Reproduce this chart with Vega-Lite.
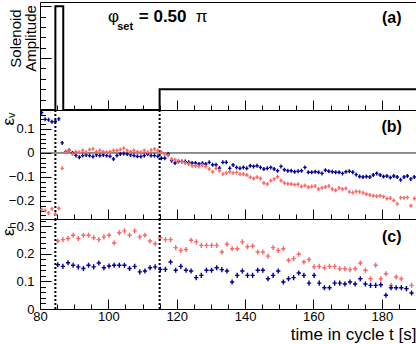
{
  "$schema": "https://vega.github.io/schema/vega-lite/v6.json",
  "padding": {"left": -2, "top": 1, "right": 0, "bottom": 0},
  "spacing": 0,
  "bounds": "flush",
  "config": {
    "concat": {"spacing": 0},
    "view": {"stroke": "black", "strokeWidth": 1},
    "font": "Liberation Sans",
    "axis": {"domain": false, "grid": false, "tickColor": "black", "tickWidth": 1, "labelColor": "black", "titleColor": "black", "labelFont": "Liberation Sans", "titleFont": "Liberation Sans", "labelFontSize": 13, "titleFontWeight": "normal", "labelOverlap": false}
  },
  "datasets": {
    "one": [{"k": 1}],
    "sol": [
      {"i": 0, "t": 80, "a": 0}, {"i": 1, "t": 84.5, "a": 0}, {"i": 2, "t": 84.5, "a": 1.0}, {"i": 3, "t": 86.8, "a": 1.0},
      {"i": 4, "t": 86.8, "a": 0}, {"i": 5, "t": 115, "a": 0}, {"i": 6, "t": 115, "a": 0.2}, {"i": 7, "t": 190, "a": 0.2}
    ],
    "vlines": [{"t": 84.5}, {"t": 115}],
    "ev": [
      {"t":80.5,"b":0.168,"r":-0.235},{"t":81.5,"b":0.14,"r":-0.24},{"t":82.5,"b":0.138,"r":-0.25},{"t":83.5,"b":0.13,"r":-0.233},
      {"t":84.5,"b":0.132,"r":-0.254},{"t":85.5,"b":0.142,"r":-0.23},{"t":86.5,"b":0.042,"r":-0.064},{"t":87.5,"b":0.005,"r":0.003},
      {"t":88.5,"b":0.011,"r":0.01},{"t":89.5,"b":0.0,"r":-0.004},{"t":90.5,"b":-0.01,"r":0.005},{"t":91.5,"b":-0.018,"r":0.003},
      {"t":92.5,"b":-0.011,"r":0.01},{"t":93.5,"b":-0.008,"r":0.003},{"t":94.5,"b":-0.011,"r":0.014},{"t":95.5,"b":-0.015,"r":0.017},
      {"t":96.5,"b":-0.008,"r":0.005},{"t":97.5,"b":-0.011,"r":0.01},{"t":98.5,"b":-0.008,"r":0.005},{"t":99.5,"b":-0.011,"r":0.003},
      {"t":100.5,"b":-0.014,"r":0.005},{"t":101.5,"b":-0.025,"r":0.01},{"t":102.5,"b":-0.011,"r":0.01},{"t":103.5,"b":-0.004,"r":0.014},
      {"t":104.5,"b":-0.002,"r":0.02},{"t":105.5,"b":-0.004,"r":0.01},{"t":106.5,"b":-0.008,"r":0.005},{"t":107.5,"b":-0.011,"r":0.01},
      {"t":108.5,"b":-0.014,"r":0.005},{"t":109.5,"b":-0.015,"r":0.003},{"t":110.5,"b":-0.011,"r":0.01},{"t":111.5,"b":-0.004,"r":0.003},
      {"t":112.5,"b":-0.011,"r":0.012},{"t":113.5,"b":-0.011,"r":0.017},{"t":114.5,"b":-0.014,"r":0.01},{"t":115.5,"b":-0.022,"r":0.003},
      {"t":116.5,"b":-0.022,"r":-0.004},{"t":117.5,"b":-0.004,"r":-0.011},{"t":118.5,"b":-0.032,"r":-0.025},{"t":119.5,"b":-0.042,"r":-0.028},
      {"t":120.5,"b":-0.036,"r":-0.032},{"t":121.5,"b":-0.035,"r":-0.036},{"t":122.5,"b":-0.036,"r":-0.042},{"t":123.5,"b":-0.039,"r":-0.046},
      {"t":124.5,"b":-0.042,"r":-0.053},{"t":125.5,"b":-0.042,"r":-0.053},{"t":126.5,"b":-0.046,"r":-0.056},{"t":127.5,"b":-0.043,"r":-0.05},
      {"t":128.5,"b":-0.046,"r":-0.057},{"t":129.5,"b":-0.039,"r":-0.067},{"t":130.5,"b":-0.049,"r":-0.078},{"t":131.5,"b":-0.049,"r":-0.064},
      {"t":132.5,"b":-0.063,"r":-0.074},{"t":133.5,"b":-0.039,"r":-0.088},{"t":134.5,"b":-0.039,"r":-0.083},{"t":135.5,"b":-0.064,"r":-0.078},
      {"t":136.5,"b":-0.05,"r":-0.083},{"t":137.5,"b":-0.06,"r":-0.081},{"t":138.5,"b":-0.064,"r":-0.088},{"t":139.5,"b":-0.06,"r":-0.088},
      {"t":140.5,"b":-0.064,"r":-0.092},{"t":141.5,"b":-0.053,"r":-0.101},{"t":142.5,"b":-0.056,"r":-0.106},{"t":143.5,"b":-0.053,"r":-0.101},
      {"t":144.5,"b":-0.06,"r":-0.106},{"t":145.5,"b":-0.067,"r":-0.125},{"t":146.5,"b":-0.064,"r":-0.129},{"t":147.5,"b":-0.06,"r":-0.115},
      {"t":148.5,"b":-0.067,"r":-0.108},{"t":149.5,"b":-0.074,"r":-0.099},{"t":150.5,"b":-0.056,"r":-0.115},{"t":151.5,"b":-0.07,"r":-0.125},
      {"t":152.5,"b":-0.074,"r":-0.128},{"t":153.5,"b":-0.074,"r":-0.129},{"t":154.5,"b":-0.078,"r":-0.132},{"t":155.5,"b":-0.076,"r":-0.13},
      {"t":156.5,"b":-0.074,"r":-0.14},{"t":157.5,"b":-0.06,"r":-0.135},{"t":158.5,"b":-0.08,"r":-0.142},{"t":159.5,"b":-0.08,"r":-0.14},
      {"t":160.5,"b":-0.078,"r":-0.138},{"t":161.5,"b":-0.08,"r":-0.15},{"t":162.5,"b":-0.085,"r":-0.145},{"t":163.5,"b":-0.072,"r":-0.142},
      {"t":164.5,"b":-0.076,"r":-0.138},{"t":165.5,"b":-0.078,"r":-0.15},{"t":166.5,"b":-0.08,"r":-0.155},{"t":167.5,"b":-0.08,"r":-0.146},
      {"t":168.5,"b":-0.085,"r":-0.15},{"t":169.5,"b":-0.078,"r":-0.148},{"t":170.5,"b":-0.076,"r":-0.162},{"t":171.5,"b":-0.08,"r":-0.165},
      {"t":172.5,"b":-0.09,"r":-0.16},{"t":173.5,"b":-0.098,"r":-0.162},{"t":174.5,"b":-0.1,"r":-0.166},{"t":175.5,"b":-0.098,"r":-0.172},
      {"t":176.5,"b":-0.1,"r":-0.175},{"t":177.5,"b":-0.092,"r":-0.178},{"t":178.5,"b":-0.085,"r":-0.18},{"t":179.5,"b":-0.092,"r":-0.178},
      {"t":180.5,"b":-0.098,"r":-0.182},{"t":181.5,"b":-0.096,"r":-0.19},{"t":182.5,"b":-0.102,"r":-0.188},{"t":183.5,"b":-0.096,"r":-0.198},
      {"t":184.5,"b":-0.1,"r":-0.212},{"t":185.5,"b":-0.112,"r":-0.186},{"t":186.5,"b":-0.1,"r":-0.186},{"t":187.5,"b":-0.096,"r":-0.185},
      {"t":188.5,"b":-0.108,"r":-0.22},{"t":189.5,"b":-0.1,"r":-0.19}
    ],
    "eh": [
      {"t":85.2,"r":0.247,"b":0.161},{"t":86.7,"r":0.252,"b":0.155},{"t":88.2,"r":0.256,"b":0.168},{"t":89.7,"r":0.268,"b":0.159},
      {"t":91.2,"r":0.256,"b":0.153},{"t":92.7,"r":0.268,"b":0.147},{"t":94.2,"r":0.268,"b":0.159},{"t":95.7,"r":0.259,"b":0.153},
      {"t":97.2,"r":0.252,"b":0.167},{"t":98.7,"r":0.262,"b":0.15},{"t":100.2,"r":0.268,"b":0.156},{"t":101.7,"r":0.24,"b":0.159},
      {"t":103.2,"r":0.277,"b":0.159},{"t":104.7,"r":0.284,"b":0.159},{"t":106.2,"r":0.268,"b":0.147},{"t":107.7,"r":0.284,"b":0.155},
      {"t":109.2,"r":0.262,"b":0.135},{"t":110.7,"r":0.268,"b":0.138},{"t":112.2,"r":0.247,"b":0.15},{"t":113.7,"r":0.237,"b":0.153},
      {"t":115.2,"r":0.259,"b":0.144},{"t":116.7,"r":0.252,"b":0.144},{"t":118.2,"r":0.252,"b":0.171},{"t":119.7,"r":0.223,"b":0.141},
      {"t":121.2,"r":0.213,"b":0.155},{"t":122.7,"r":0.216,"b":0.141},{"t":124.2,"r":0.25,"b":0.138},{"t":125.7,"r":0.244,"b":0.114},
      {"t":127.2,"r":0.231,"b":0.122},{"t":128.7,"r":0.231,"b":0.141},{"t":130.2,"r":0.231,"b":0.141},{"t":131.7,"r":0.231,"b":0.15},
      {"t":133.2,"r":0.207,"b":0.143},{"t":134.7,"r":0.235,"b":0.138},{"t":136.2,"r":0.219,"b":0.098},{"t":137.7,"r":0.219,"b":0.122},
      {"t":139.2,"r":0.244,"b":0.138},{"t":140.7,"r":0.226,"b":0.122},{"t":142.2,"r":0.229,"b":0.122},{"t":143.7,"r":0.207,"b":0.141},
      {"t":145.2,"r":0.207,"b":0.141},{"t":146.7,"r":0.192,"b":0.11},{"t":148.2,"r":0.223,"b":0.122},{"t":149.7,"r":0.213,"b":0.138},
      {"t":151.2,"r":0.219,"b":0.098},{"t":152.7,"r":0.177,"b":0.11},{"t":154.2,"r":0.183,"b":0.114},{"t":155.7,"r":0.199,"b":0.131},
      {"t":157.2,"r":0.171,"b":0.122},{"t":158.7,"r":0.18,"b":0.094},{"t":160.2,"r":0.153,"b":0.122},{"t":161.7,"r":0.155,"b":0.094},
      {"t":163.2,"r":0.15,"b":0.077},{"t":164.7,"r":0.155,"b":0.077},{"t":166.2,"r":0.155,"b":0.094},{"t":167.7,"r":0.146,"b":0.094},
      {"t":169.2,"r":0.146,"b":0.091},{"t":170.7,"r":0.143,"b":0.098},{"t":172.2,"r":0.146,"b":0.091},{"t":173.7,"r":0.167,"b":0.11},
      {"t":175.2,"r":0.141,"b":0.091},{"t":176.7,"r":0.11,"b":0.086},{"t":178.2,"r":0.159,"b":0.086},{"t":179.7,"r":0.11,"b":0.088},
      {"t":181.2,"r":0.128,"b":0.05},{"t":182.7,"r":0.086,"b":0.077},{"t":184.2,"r":0.116,"b":0.077},{"t":185.7,"r":0.11,"b":0.077},
      {"t":187.2,"r":0.074,"b":0.074},{"t":188.7,"r":0.086,"b":0.058}
    ]
  },
  "vconcat": [
    {
      "width": 376, "height": 108,
      "resolve": {"axis": {"x": "independent", "y": "independent"}},
      "layer": [
        {
          "data": {"name": "sol"},
          "mark": {"type": "line", "color": "black", "strokeWidth": 2},
          "encoding": {
            "x": {"field": "t", "type": "quantitative", "scale": {"domain": [80, 190], "nice": false, "zero": false},
              "axis": {"orient": "bottom", "values": [80,100,120,140,160,180], "labels": false, "title": null, "tickSize": -10}},
            "y": {"field": "a", "type": "quantitative", "scale": {"domain": [0, 1.04], "nice": false, "zero": false},
              "axis": {"orient": "left", "values": [0.5, 1.0], "labels": false, "tickSize": -11,
                "title": ["Solenoid", "Amplitude"], "titleFontSize": 15, "titleLineHeight": 15, "titleAngle": 270,
                "titleX": -20, "titleY": 36, "titleAlign": "center", "titleBaseline": "alphabetic"}},
            "order": {"field": "i", "type": "quantitative"}
          }
        },
        {
          "data": {"name": "sol"},
          "mark": {"type": "line", "color": "black", "strokeWidth": 2, "opacity": 0},
          "encoding": {
            "x": {"field": "t", "type": "quantitative",
              "axis": {"orient": "bottom", "values": [85,90,95,105,110,115,125,130,135,145,150,155,165,170,175,185,190], "labels": false, "title": null, "tickSize": -5}},
            "y": {"field": "a", "type": "quantitative",
              "axis": {"orient": "left", "values": [0.1,0.2,0.3,0.4,0.6,0.7,0.8,0.9], "labels": false, "tickSize": -5.5, "title": null}},
            "order": {"field": "i", "type": "quantitative"}
          }
        },
        {
          "data": {"name": "one"},
          "mark": {"type": "text", "text": "φ", "align": "left", "baseline": "middle", "fontSize": 17},
          "encoding": {"x": {"datum": 99.9, "type": "quantitative", "axis": null}, "y": {"datum": 0.894, "type": "quantitative", "axis": null}}
        },
        {
          "data": {"name": "one"},
          "mark": {"type": "text", "text": "set", "align": "left", "baseline": "middle", "fontSize": 11, "fontWeight": "bold"},
          "encoding": {"x": {"datum": 102.6, "type": "quantitative", "axis": null}, "y": {"datum": 0.80, "type": "quantitative", "axis": null}}
        },
        {
          "data": {"name": "one"},
          "mark": {"type": "text", "text": "= 0.50", "align": "left", "baseline": "middle", "fontSize": 17, "fontWeight": "bold"},
          "encoding": {"x": {"datum": 108.9, "type": "quantitative", "axis": null}, "y": {"datum": 0.894, "type": "quantitative", "axis": null}}
        },
        {
          "data": {"name": "one"},
          "mark": {"type": "text", "text": "π", "align": "left", "baseline": "middle", "fontSize": 17},
          "encoding": {"x": {"datum": 125.6, "type": "quantitative", "axis": null}, "y": {"datum": 0.894, "type": "quantitative", "axis": null}}
        },
        {
          "data": {"name": "one"},
          "mark": {"type": "text", "text": "(a)", "align": "center", "baseline": "middle", "fontSize": 16, "fontWeight": "bold"},
          "encoding": {"x": {"datum": 182.9, "type": "quantitative", "axis": null}, "y": {"datum": 0.889, "type": "quantitative", "axis": null}}
        }
      ]
    },
    {
      "width": 376, "height": 109,
      "resolve": {"axis": {"x": "independent", "y": "independent"}},
      "layer": [
        {
          "data": {"name": "ev"},
          "mark": {"type": "point", "shape": "M-0.85,0H0.85M0,-1V1", "filled": false, "size": 16, "strokeWidth": 1.4, "color": "#000099", "opacity": 1},
          "encoding": {
            "x": {"field": "t", "type": "quantitative", "scale": {"domain": [80, 190], "nice": false, "zero": false},
              "axis": {"orient": "bottom", "values": [80,100,120,140,160,180], "labels": false, "title": null, "tickSize": -10}},
            "y": {"field": "b", "type": "quantitative", "scale": {"domain": [-0.275, 0.179], "nice": false, "zero": false},
              "axis": {"orient": "left", "values": [-0.2,-0.1,0,0.1], "format": ".1~f", "tickSize": -11, "labelPadding": 17,
                "title": "εᵥ", "titleFontSize": 17, "titleAngle": 270, "titleX": -27, "titleY": 2, "titleAlign": "right", "titleBaseline": "alphabetic"}}
          }
        },
        {
          "data": {"name": "one"},
          "mark": {"type": "rule", "color": "#222", "strokeWidth": 1},
          "encoding": {"y": {"datum": 0, "type": "quantitative", "axis": null}}
        },
        {
          "data": {"name": "vlines"},
          "mark": {"type": "rule", "color": "black", "strokeWidth": 2, "strokeDash": [2, 2]},
          "encoding": {"x": {"field": "t", "type": "quantitative", "axis": null}}
        },
        {
          "data": {"name": "ev"},
          "mark": {"type": "point", "shape": "M-0.85,0H0.85M0,-1V1", "filled": false, "size": 16, "strokeWidth": 1.4, "color": "#ff6666", "opacity": 1},
          "encoding": {
            "x": {"field": "t", "type": "quantitative",
              "axis": {"orient": "bottom", "values": [85,90,95,105,110,115,125,130,135,145,150,155,165,170,175,185,190], "labels": false, "title": null, "tickSize": -5}},
            "y": {"field": "r", "type": "quantitative",
              "axis": {"orient": "left", "values": [-0.26,-0.24,-0.22,-0.18,-0.16,-0.14,-0.12,-0.08,-0.06,-0.04,-0.02,0.02,0.04,0.06,0.08,0.12,0.14,0.16], "labels": false, "tickSize": -5.5, "title": null}}
          }
        },
        {
          "data": {"name": "one"},
          "mark": {"type": "text", "text": "(b)", "align": "center", "baseline": "middle", "fontSize": 16, "fontWeight": "bold"},
          "encoding": {"x": {"datum": 182.9, "type": "quantitative", "axis": null}, "y": {"datum": 0.11, "type": "quantitative", "axis": null}}
        }
      ]
    },
    {
      "width": 376, "height": 90,
      "resolve": {"axis": {"x": "independent", "y": "independent"}},
      "layer": [
        {
          "data": {"name": "eh"},
          "mark": {"type": "point", "shape": "M-0.84,0H0.84M0,-1V1", "filled": false, "size": 26, "strokeWidth": 1.4, "color": "#ff6666", "opacity": 1},
          "encoding": {
            "x": {"field": "t", "type": "quantitative", "scale": {"domain": [80, 190], "nice": false, "zero": false},
              "axis": {"orient": "bottom", "values": [80,100,120,140,160,180], "format": "d", "labelFlush": false, "labelPadding": 11, "tickSize": -10,
                "title": "time in cycle t [s]", "titleFontSize": 17, "titleAnchor": "end", "titleAlign": "right", "titleX": 376, "titleY": 30.5, "titleBaseline": "alphabetic"}},
            "y": {"field": "r", "type": "quantitative", "scale": {"domain": [0, 0.327], "nice": false, "zero": false},
              "axis": {"orient": "left", "values": [0, 0.1, 0.2, 0.3], "format": ".1~f", "tickSize": -11, "labelPadding": 17,
                "title": "εₕ", "titleFontSize": 17, "titleAngle": 270, "titleX": -27, "titleY": 2, "titleAlign": "right", "titleBaseline": "alphabetic"}}
          }
        },
        {
          "data": {"name": "vlines"},
          "mark": {"type": "rule", "color": "black", "strokeWidth": 2, "strokeDash": [2, 2]},
          "encoding": {"x": {"field": "t", "type": "quantitative", "axis": null}}
        },
        {
          "data": {"name": "eh"},
          "mark": {"type": "point", "shape": "M-0.84,0H0.84M0,-1V1", "filled": false, "size": 26, "strokeWidth": 1.4, "color": "#000099", "opacity": 1},
          "encoding": {
            "x": {"field": "t", "type": "quantitative",
              "axis": {"orient": "bottom", "values": [85,90,95,105,110,115,125,130,135,145,150,155,165,170,175,185,190], "labels": false, "title": null, "tickSize": -5}},
            "y": {"field": "b", "type": "quantitative",
              "axis": {"orient": "left", "values": [0.02,0.04,0.06,0.08,0.12,0.14,0.16,0.18,0.22,0.24,0.26,0.28,0.32], "labels": false, "tickSize": -5.5, "title": null}}
          }
        },
        {
          "data": {"name": "one"},
          "mark": {"type": "text", "text": "(c)", "align": "center", "baseline": "middle", "fontSize": 16, "fontWeight": "bold"},
          "encoding": {"x": {"datum": 182.9, "type": "quantitative", "axis": null}, "y": {"datum": 0.26, "type": "quantitative", "axis": null}}
        }
      ]
    }
  ]
}
